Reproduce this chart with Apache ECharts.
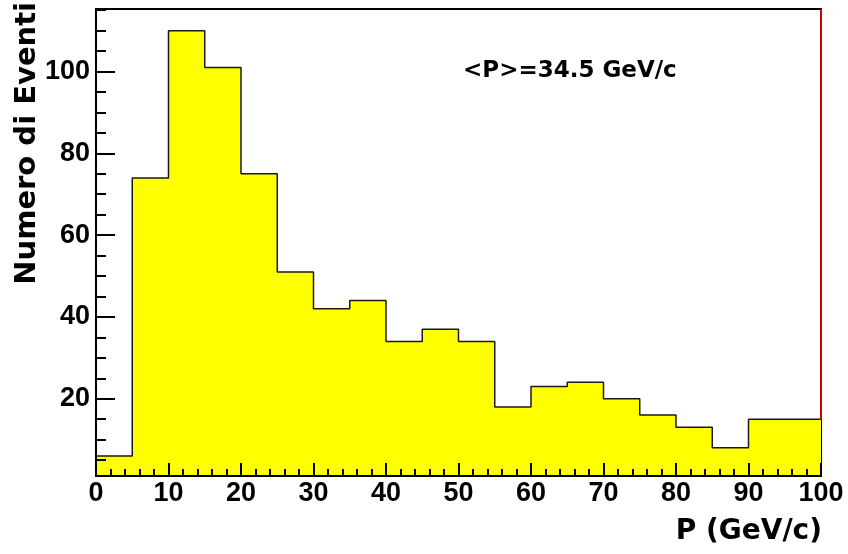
<!DOCTYPE html>
<html>
<head>
<meta charset="utf-8">
<script src="https://cdn.jsdelivr.net/npm/echarts@6/dist/echarts.min.js"></script>
<style>
  html, body { margin: 0; padding: 0; background: #fff; }
  #main { width: 848px; height: 554px; }
</style>
</head>
<body>
<div id="main"></div>
<script>
// histogram bins, 5 GeV/c wide
const binEdges = [0, 5, 10, 15, 20, 25, 30, 35, 40, 45, 50, 55, 60, 65, 70, 75, 80, 85, 90, 95];
const counts = [6, 74, 110, 101, 75, 51, 42, 44, 34, 37, 34, 18, 23, 24, 20, 16, 13, 8, 15, 15];
const xMax = 100;
const yMin = 1.1, yMax = 115.3;
const yMajor = [20, 40, 60, 80, 100];
const yMinor = [5, 10, 15, 20, 25, 30, 35, 40, 45, 50, 55, 60, 65, 70, 75, 80, 85, 90, 95, 100, 105, 110, 115];
const meanText = '<P>=34.5 GeV/c';

// step outline: left edge of each bin, then close at the last edge
let stepData = binEdges.map((x, i) => [x, counts[i]]);
stepData.push([xMax, counts[counts.length - 1]]);

const tickFont = { fontFamily: 'Liberation Sans', fontWeight: 'bold', fontSize: 27, color: '#000' };

const chart = echarts.init(document.getElementById('main'));
chart.setOption({
  animation: false,
  grid: {
    left: 96, right: 27, top: 9, bottom: 78,
    show: true, borderColor: '#000', borderWidth: 2, backgroundColor: 'transparent'
  },
  xAxis: {
    type: 'value', min: 0, max: xMax, interval: 10, z: 10,
    axisLine: { onZero: false, lineStyle: { color: '#000', width: 2 } },
    axisTick: { inside: true, length: 13, lineStyle: { color: '#000', width: 2 } },
    minorTick: { show: true, splitNumber: 5, length: 7, lineStyle: { color: '#000', width: 2 } },
    axisLabel: Object.assign({ margin: 4 }, tickFont),
    splitLine: { show: false }
  },
  yAxis: [{
    type: 'value', min: yMin, max: yMax, position: 'left', z: 10,
    axisLine: { show: true, lineStyle: { color: '#000', width: 2 } },
    axisTick: { inside: true, length: 19, customValues: yMajor, lineStyle: { color: '#000', width: 2 } },
    axisLabel: Object.assign({ margin: 6, customValues: yMajor }, tickFont),
    splitLine: { show: false }
  }, {
    type: 'value', min: yMin, max: yMax, position: 'left', offset: 0, z: 10,
    axisLine: { show: false },
    axisTick: { inside: true, length: 10, customValues: yMinor, lineStyle: { color: '#000', width: 2 } },
    axisLabel: { show: false },
    splitLine: { show: false }
  }],
  series: [{
    type: 'line',
    step: 'end',
    data: stepData,
    symbol: 'none',
    lineStyle: { color: '#1a1a1a', width: 1.5 },
    areaStyle: { color: '#ffff00', opacity: 1 },
    z: 2
  }, {
    type: 'line',
    data: [[xMax, counts[counts.length - 1]], [xMax, yMax]],
    symbol: 'none',
    lineStyle: { color: '#d40000', width: 2 },
    z: 5
  }],
  graphic: [{
    type: 'text', x: 27, y: 2, rotation: Math.PI / 2,
    style: {
      text: 'Numero di Eventi', align: 'right', verticalAlign: 'middle',
      textAlign: 'right', textVerticalAlign: 'middle',
      font: 'bold 29px "DejaVu Sans"', fill: '#000'
    }
  }, {
    type: 'text', x: 822, y: 532,
    style: {
      text: 'P (GeV/c)', align: 'right', verticalAlign: 'middle',
      textAlign: 'right', textVerticalAlign: 'middle',
      font: 'bold 28px "DejaVu Sans"', fill: '#000'
    }
  }, {
    type: 'text', x: 463, y: 71,
    style: {
      text: meanText, align: 'left', verticalAlign: 'middle',
      textAlign: 'left', textVerticalAlign: 'middle',
      font: 'bold 23px "DejaVu Sans"', fill: '#000'
    }
  }]
});
</script>
</body>
</html>
